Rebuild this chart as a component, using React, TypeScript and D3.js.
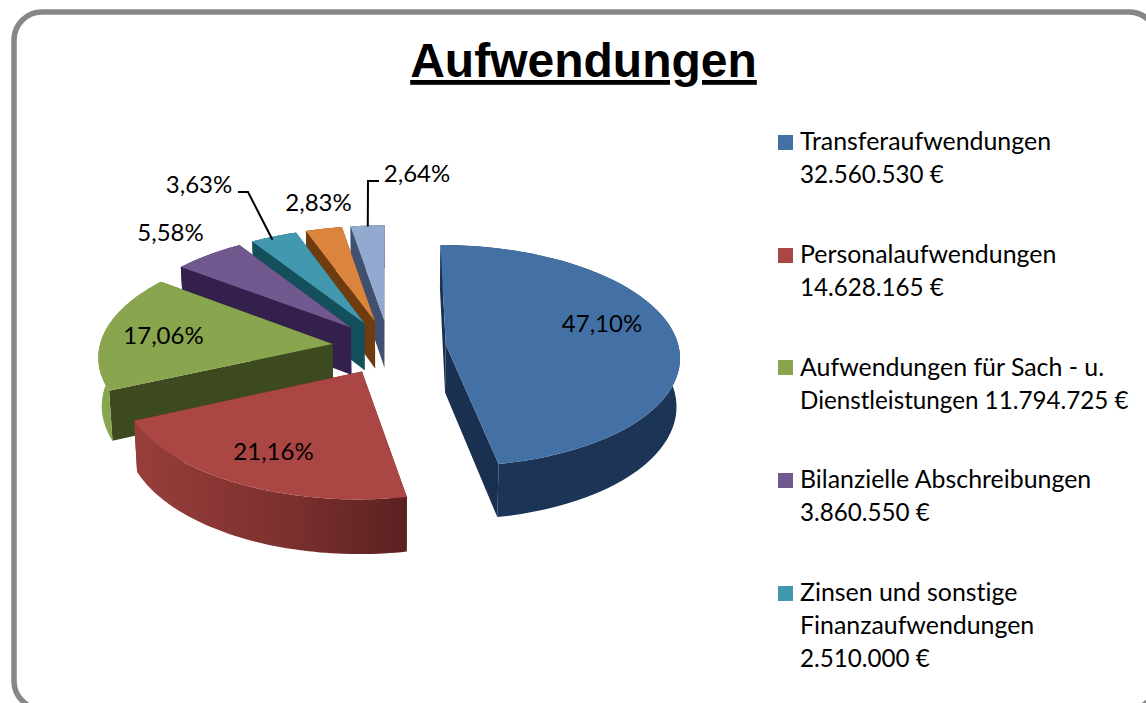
import React from "react";
import * as d3 from "d3";

const categories = [
  "Transferaufwendungen",
  "Personalaufwendungen",
  "Aufwendungen für Sach - u. Dienstleistungen",
  "Bilanzielle Abschreibungen",
  "Zinsen und sonstige Finanzaufwendungen",
  "Sonstige 1",
  "Sonstige 2",
];
const shares = [47.1, 21.16, 17.06, 5.58, 3.63, 2.83, 2.64];
const shareLabels = ["47,10%", "21,16%", "17,06%", "5,58%", "3,63%", "2,83%", "2,64%"];
const topColors = ["#4471a5", "#aa4643", "#89a54e", "#71588f", "#4198af", "#db843d", "#93a9cf"];
const radialWallColors = ["#1a3050", "#5e2322", "#3d4a1f", "#33204d", "#14505c", "#6f3b0f", "#3f5070"];
const outerWallColors = ["#1c3556", "url(#redWall)", "#86a64c", "#33204d", "#14505c", "#6f3b0f", "#3f5070"];
const legendLines = [
  ["Transferaufwendungen", "32.560.530 €"],
  ["Personalaufwendungen", "14.628.165 €"],
  ["Aufwendungen für Sach - u.", "Dienstleistungen 11.794.725 €"],
  ["Bilanzielle Abschreibungen", "3.860.550 €"],
  ["Zinsen und sonstige", "Finanzaufwendungen", "2.510.000 €"],
];
const labelAnchors = [
  [602, 332],
  [273.5, 460],
  [163.5, 344],
  [170.5, 241],
  [199, 193],
  [318.5, 211],
  [417, 182],
];
const legendSquareTops = [135, 248, 360, 473, 586];
const legendFirstBaselines = [150, 263, 376, 488, 601];

const CX = 389;
const CY = 347;
const RX = 233;
const RY = 110;
const K = 0.1;
const EXPLODE = 0.245;
const DEPTH = 48;
const CONVERGE = 0.988;
const FONT = "Lato, Carlito, sans-serif";

type Pt = [number, number];

export default function App() {
  const pie = d3.pie<number>().sort(null).value((d) => d);
  const arcs = pie(shares);
  const line = d3.line<Pt>();

  const project = (a: number, r: number, mid: number, drop = 0): Pt => {
    const px = EXPLODE * Math.sin(mid) + r * Math.sin(a);
    const pz = EXPLODE * Math.cos(mid) + r * Math.cos(a);
    const p = 1 / (1 + K * pz);
    const x = CX + RX * px * p;
    return [drop ? CX + (x - CX) * CONVERGE : x, CY - RY * pz * p + (drop ? DEPTH * p : 0)];
  };

  const slices = arcs.map((arc, i) => {
    const mid = (arc.startAngle + arc.endAngle) / 2;
    const angles = d3.range(0, 61).map((t) => arc.startAngle + ((arc.endAngle - arc.startAngle) * t) / 60);
    const apex = project(0, 0, mid);
    const apexLow = project(0, 0, mid, 1);
    const rim = angles.map((a) => project(a, 1, mid));
    const rimLow = angles.map((a) => project(a, 1, mid, 1));
    const top = line([apex, ...rim])! + "Z";
    // radial faces: the two straight cuts of the slice
    const startFace = line([apex, rim[0], rimLow[0], apexLow])! + "Z";
    const endFace = line([apex, rim[60], rimLow[60], apexLow])! + "Z";
    const outer = line([...rim, ...[...rimLow].reverse()])! + "Z";
    return { i, top, startFace, endFace, outer, mid, arc };
  });

  const tealOuter = project(slices[4].mid - 0.02, 0.97, slices[4].mid);
  const lightOuter = project(slices[6].mid, 0.99, slices[6].mid);

  return (
    <svg
      width={1146}
      height={703}
      style={{ position: "absolute", left: 0, top: 0, background: "#fff", display: "block", fontVariantLigatures: "none" }}
    >
      <defs>
        <linearGradient id="redWall" x1="0" x2="1" y1="0" y2="0">
          <stop offset="0" stopColor="#983e3b" />
          <stop offset="0.6" stopColor="#7a2f2d" />
          <stop offset="1" stopColor="#5a2120" />
        </linearGradient>
      </defs>
      <rect x={14} y={12} width={1143} height={697} rx={28} fill="#fff" stroke="#878787" strokeWidth={5.5} />
      <text
        x={583.5}
        y={77}
        textAnchor="middle"
        fontFamily="Liberation Sans, Arial, sans-serif"
        fontWeight="bold"
        fontSize={48}
        textDecoration="underline"
        fill="#000"
      >
        Aufwendungen
      </text>

      {[...slices].reverse().map((s) => (
        <g key={categories[s.i]}>
          <path d={s.endFace} fill={radialWallColors[s.i]} />
          <path d={s.startFace} fill={radialWallColors[s.i]} />
          <path d={s.outer} fill={outerWallColors[s.i]} />
          <path d={s.top} fill={topColors[s.i]} />
        </g>
      ))}

      <path d={line([[238, 192], [248, 192], tealOuter])!} fill="none" stroke="#000" strokeWidth={2} />
      <path d={line([[379, 181], [368, 181], lightOuter])!} fill="none" stroke="#000" strokeWidth={2} />

      {shareLabels.map((t, i) => (
        <text
          key={t}
          x={labelAnchors[i][0]}
          y={labelAnchors[i][1]}
          textAnchor="middle"
          fontFamily={FONT}
          fontSize={24}
          fill="#000"
        >
          {t}
        </text>
      ))}

      {legendLines.map((lines, i) => (
        <g key={lines[0]}>
          <rect x={778} y={legendSquareTops[i]} width={15} height={15} fill={topColors[i]} />
          {lines.map((t, j) => (
            <text
              key={t}
              x={800}
              y={legendFirstBaselines[i] + j * 33}
              fontFamily={FONT}
              fontSize={t.includes("€") ? 24.2 : 24.9}
              fill="#000"
            >
              {t}
            </text>
          ))}
        </g>
      ))}
    </svg>
  );
}
